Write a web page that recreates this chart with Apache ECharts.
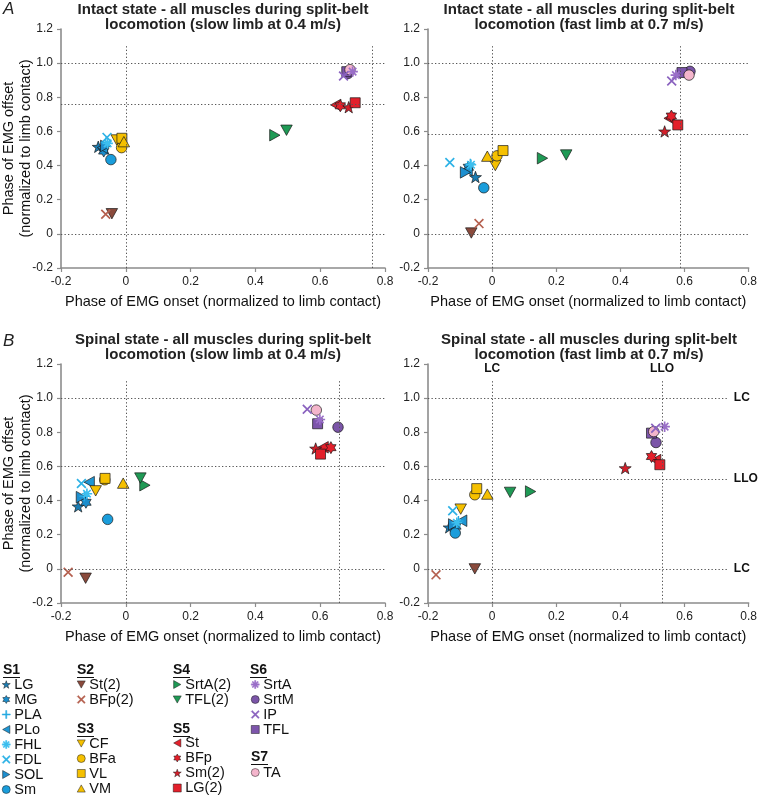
<!DOCTYPE html>
<html>
<head>
<meta charset="utf-8">
<script src="https://cdn.jsdelivr.net/npm/echarts@6/dist/echarts.min.js"></script>
<style>html,body{margin:0;padding:0;background:#fff}#c{width:760px;height:796px}</style>
</head>
<body>
<div id="c"></div>
<script>
// ---------- data ----------
const muscles = ['LG','MG','PLA','PLo','FHL','FDL','SOL','Sm','St(2)','BFp(2)','CF','BFa','VL','VM','SrtA(2)','TFL(2)','St','BFp','Sm(2)','LG(2)','SrtA','SrtM','IP','TFL','TA'];
const groups = [
  {name:'S1', items:['LG','MG','PLA','PLo','FHL','FDL','SOL','Sm']},
  {name:'S2', items:['St(2)','BFp(2)']},
  {name:'S3', items:['CF','BFa','VL','VM']},
  {name:'S4', items:['SrtA(2)','TFL(2)']},
  {name:'S5', items:['St','BFp','Sm(2)','LG(2)']},
  {name:'S6', items:['SrtA','SrtM','IP','TFL']},
  {name:'S7', items:['TA']}
];
const xTicks = [-0.2, 0, 0.2, 0.4, 0.6, 0.8];
const yTicks = [-0.2, 0, 0.2, 0.4, 0.6, 0.8, 1.0, 1.2];

const intactSlowOnset  = [-0.085,-0.068,-0.062,-0.072,-0.056,-0.058,-0.062,-0.046,-0.043,-0.062,-0.028,-0.013,-0.012,-0.006,0.46,0.496,0.648,0.662,0.688,0.708,0.70,0.686,0.672,0.682,0.692];
const intactSlowOffset = [0.51,0.485,0.535,0.505,0.53,0.565,0.515,0.435,0.118,0.115,0.55,0.505,0.56,0.54,0.578,0.607,0.755,0.75,0.742,0.768,0.95,0.94,0.925,0.95,0.962];
const intactFastOnset  = [-0.052,-0.074,-0.068,-0.078,-0.066,-0.132,-0.083,-0.026,-0.065,-0.041,0.01,0.015,0.034,-0.015,0.157,0.231,0.552,0.559,0.538,0.579,0.573,0.617,0.56,0.592,0.614];
const intactFastOffset = [0.333,0.39,0.41,0.375,0.405,0.418,0.36,0.27,0.005,0.06,0.40,0.457,0.488,0.455,0.443,0.462,0.677,0.69,0.60,0.638,0.93,0.952,0.895,0.945,0.93];
const spinalSlowOnset  = [-0.147,-0.123,-0.128,-0.113,-0.12,-0.137,-0.137,-0.056,-0.124,-0.178,-0.093,-0.065,-0.064,-0.008,0.059,0.045,0.609,0.633,0.586,0.601,0.599,0.655,0.56,0.592,0.588];
const spinalSlowOffset = [0.366,0.39,0.425,0.508,0.44,0.50,0.42,0.29,-0.055,-0.02,0.457,0.522,0.53,0.502,0.49,0.532,0.712,0.71,0.705,0.672,0.875,0.83,0.935,0.85,0.93];
const spinalFastOnset  = [-0.134,-0.113,-0.105,-0.095,-0.11,-0.123,-0.12,-0.115,-0.054,-0.175,-0.098,-0.054,-0.048,-0.015,0.12,0.056,0.51,0.497,0.415,0.523,0.538,0.511,0.51,0.497,0.504];
const spinalFastOffset = [0.243,0.25,0.28,0.282,0.27,0.34,0.26,0.21,0.0,-0.035,0.35,0.434,0.47,0.438,0.453,0.448,0.637,0.658,0.59,0.61,0.833,0.74,0.824,0.795,0.804];

// reference (dotted) lines per panel
const refVertical   = [[0, 0.76], [0, 0.586], [0, 0.658], [0, 0.53]];
const refHorizontal = [[0, 0.76, 1.0], [0, 0.585, 1.0], [0, 0.6, 1.0], [0, 0.527, 1.0]];
const refVerticalLabels   = ['LC', 'LLO'];
const refHorizontalLabels = ['LC', 'LLO', 'LC'];

const panelTitles = [
  'Intact state - all muscles during split-belt\nlocomotion (slow limb at 0.4 m/s)',
  'Intact state - all muscles during split-belt\nlocomotion (fast limb at 0.7 m/s)',
  'Spinal state - all muscles during split-belt\nlocomotion (slow limb at 0.4 m/s)',
  'Spinal state - all muscles during split-belt\nlocomotion (fast limb at 0.7 m/s)'
];
const xName = 'Phase of EMG onset (normalized to limb contact)';
const yName = 'Phase of EMG offset\n(normalized to limb contact)';

// ---------- styling ----------
const FONT = '"Liberation Sans", Arial, Helvetica, sans-serif';
const SYM = {
  circle: 'circle',
  square: 'rect',
  up: 'path://M0,-10L10,8L-10,8Z',
  down: 'path://M0,10L10,-8L-10,-8Z',
  left: 'path://M-10,0L8,-10L8,10Z',
  right: 'path://M10,0L-8,-10L-8,10Z',
  star: 'path://M0,-10L2.35,-3.24L9.51,-3.09L3.8,1.24L5.88,8.09L0,4L-5.88,8.09L-3.8,1.24L-9.51,-3.09L-2.35,-3.24Z',
  hex: 'path://M0,-10L2.89,-5L8.66,-5L5.77,0L8.66,5L2.89,5L0,10L-2.89,5L-8.66,5L-5.77,0L-8.66,-5L-2.89,-5Z',
  plus: 'path://M-0.7,-5L0.7,-5L0.7,5L-0.7,5Z M-5,-0.7L5,-0.7L5,0.7L-5,0.7Z',
  cross: 'path://M-3.5,-4.6L4.6,3.5L3.5,4.6L-4.6,-3.5Z M4.6,-3.5L-3.5,4.6L-4.6,3.5L3.5,-4.6Z',
  aster: 'path://M-5,-0.8L5,-0.8L5,0.8L-5,0.8Z M0.8,-5L0.8,5L-0.8,5L-0.8,-5Z M-2.97,-4.1L4.1,2.97L2.97,4.1L-4.1,-2.97Z M4.1,-2.97L-2.97,4.1L-4.1,2.97L2.97,-4.1Z'
};
const style = {
  'LG':['star','#1b7db3'], 'MG':['hex','#1a8dcc'], 'PLA':['plus','#27aae1'], 'PLo':['left','#1e96d4'],
  'FHL':['aster','#3cbfef'], 'FDL':['cross','#2eb2e6'], 'SOL':['right','#1e8fcf'], 'Sm':['circle','#1a9ddb'],
  'St(2)':['down','#8a4a3c'], 'BFp(2)':['cross','#b5604f'],
  'CF':['down','#f5c000'], 'BFa':['circle','#f5c000'], 'VL':['square','#f5c000'], 'VM':['up','#f5c000'],
  'SrtA(2)':['right','#1f9a55'], 'TFL(2)':['down','#1f9a55'],
  'St':['left','#e3202b'], 'BFp':['hex','#e3202b'], 'Sm(2)':['star','#d41f2a'], 'LG(2)':['square','#e3202b'],
  'SrtA':['aster','#9a6fc8'], 'SrtM':['circle','#7b55a8'], 'IP':['cross','#8a62bf'], 'TFL':['square','#7d55ab'],
  'TA':['circle','#f4b5cc']
};
const strokeOnly = {plus:1, cross:1, aster:1};
const sizeOf = {circle:10.5, square:10, up:11.5, down:11.5, left:11.5, right:11.5, star:12, hex:12, plus:10, cross:10, aster:10.5};

const panels = [
  {onset: intactSlowOnset, offset: intactSlowOffset},
  {onset: intactFastOnset, offset: intactFastOffset},
  {onset: spinalSlowOnset, offset: spinalSlowOffset},
  {onset: spinalFastOnset, offset: spinalFastOffset}
];
const gridPos = [
  {left: 61, top: 29, width: 324, height: 239},
  {left: 428, top: 29, width: 323, height: 239},
  {left: 61, top: 364, width: 324, height: 239},
  {left: 428, top: 364, width: 323, height: 239}
];

const fmt = v => Math.abs(v) < 1e-9 ? '0' : v.toFixed(1);
const axisCommon = {
  type: 'value', splitLine: {show: false},
  axisLine: {onZero: false, lineStyle: {color: '#8c8c8c', width: 1.6}},
  axisTick: {length: 4, lineStyle: {color: '#8c8c8c', width: 1.2}},
  axisLabel: {color: '#222', fontSize: 12, fontFamily: FONT, formatter: fmt}
};

const grid = gridPos.map(g => Object.assign({containLabel: false}, g));
const xAxis = gridPos.map((g, i) => Object.assign({}, axisCommon, {
  gridIndex: i, min: xTicks[0], max: xTicks[xTicks.length - 1], interval: 0.2,
  axisLabel: Object.assign({}, axisCommon.axisLabel, {margin: 8}),
  name: xName, nameLocation: 'middle', nameGap: 26,
  nameTextStyle: {fontSize: 14.5, color: '#111', fontFamily: FONT}
}));
const yAxis = gridPos.map((g, i) => Object.assign({}, axisCommon, {
  gridIndex: i, min: yTicks[0], max: yTicks[yTicks.length - 1], interval: 0.2,
  axisLabel: Object.assign({}, axisCommon.axisLabel, {margin: 8})
}));

const series = [];
panels.forEach((p, pi) => {
  // dotted reference lines
  const lines = [];
  const labelled = pi === 3;
  const hEnd = labelled ? 0.735 : 0.8;
  refVertical[pi].forEach((x, k) => {
    lines.push([{coord: [x, -0.2], name: labelled ? refVerticalLabels[k] : ''}, {coord: [x, 1.1]}]);
  });
  refHorizontal[pi].forEach((y, k) => {
    lines.push([{coord: [-0.2, y], name: labelled ? refHorizontalLabels[k] : ''}, {coord: [hEnd, y]}]);
  });
  series.push({
    type: 'scatter', name: 'ref' + pi, xAxisIndex: pi, yAxisIndex: pi, data: [], silent: true, z: 1,
    markLine: {
      silent: true, symbol: ['none', 'none'], animation: false,
      lineStyle: {color: '#555', width: 1, type: [1.3, 2.2]},
      label: {show: labelled, position: 'end', formatter: '{b}', distance: 6,
        color: '#111', fontWeight: 'bold', fontSize: 12, fontFamily: FONT},
      emphasis: {disabled: true},
      data: lines
    }
  });
  muscles.forEach((m, i) => {
    const [sym, color] = style[m];
    const so = strokeOnly[sym];
    series.push({
      type: 'scatter', name: m, xAxisIndex: pi, yAxisIndex: pi, z: so ? 3 : 2,
      data: [[p.onset[i], p.offset[i]]],
      symbol: SYM[sym], symbolSize: sizeOf[sym], symbolKeepAspect: true,
      itemStyle: {color: color, borderColor: so ? color : '#1a1a1a', borderWidth: so ? 0 : 0.7, opacity: 1},
      emphasis: {disabled: true}
    });
  });
});

// legends
const legendPos = {
  S1: {left: 2, top: 677}, S2: {left: 77, top: 677}, S3: {left: 77, top: 736},
  S4: {left: 173, top: 677}, S5: {left: 173, top: 735.5}, S6: {left: 251, top: 677}, S7: {left: 251, top: 765}
};
const legend = groups.map(g => ({
  data: g.items, orient: 'vertical', left: legendPos[g.name].left, top: legendPos[g.name].top,
  height: 200, width: 80,
  padding: 0, itemGap: 0, itemWidth: 8, itemHeight: 8,
  itemStyle: {borderWidth: 0.5},
  textStyle: {fontSize: 14.5, color: '#111', fontFamily: FONT, lineHeight: 14.6, padding: [0, 0, 0, -1]}
}));

const headerPos = {
  S1: [3, 670], S2: [77, 670], S3: [77, 729], S4: [173, 670], S5: [173, 729], S6: [250, 670], S7: [251, 757]
};
const graphic = [];
groups.forEach(g => {
  const [hx, hy] = headerPos[g.name];
  graphic.push({type: 'text', x: hx, y: hy, style: {text: g.name, fontSize: 14, fontWeight: 'bold',
    fontFamily: FONT, fill: '#111', align: 'left', verticalAlign: 'middle'}});
  graphic.push({type: 'line', shape: {x1: hx, y1: hy + 7.5, x2: hx + 17, y2: hy + 7.5},
    style: {stroke: '#111', lineWidth: 1}});
});
const titleCenters = [[223, 2], [589, 2], [223, 332], [589, 332]];
panelTitles.forEach((t, i) => {
  graphic.push({type: 'text', x: titleCenters[i][0], y: titleCenters[i][1],
    style: {text: t, fontSize: 15, fontWeight: 'bold', fontFamily: FONT, fill: '#222',
      align: 'center', verticalAlign: 'top', lineHeight: 15.5}});
});
[['A', 9], ['B', 341]].forEach(([t, y]) => {
  graphic.push({type: 'text', x: 3, y: y, style: {text: t, fontSize: 17, fontStyle: 'italic',
    fontFamily: FONT, fill: '#222', align: 'left', verticalAlign: 'middle'}});
});
[148.5, 483.5].forEach(cy => {
  graphic.push({type: 'text', x: 17.5, y: cy, rotation: Math.PI / 2,
    style: {text: yName, fontSize: 14.5, fontFamily: FONT, fill: '#111',
      align: 'center', verticalAlign: 'middle', lineHeight: 17}});
});

const chart = echarts.init(document.getElementById('c'), null, {renderer: 'canvas'});
chart.setOption({
  animation: false,
  backgroundColor: '#fff',
  textStyle: {fontFamily: FONT},
  grid, xAxis, yAxis, series, legend, graphic
});
</script>
</body>
</html>
